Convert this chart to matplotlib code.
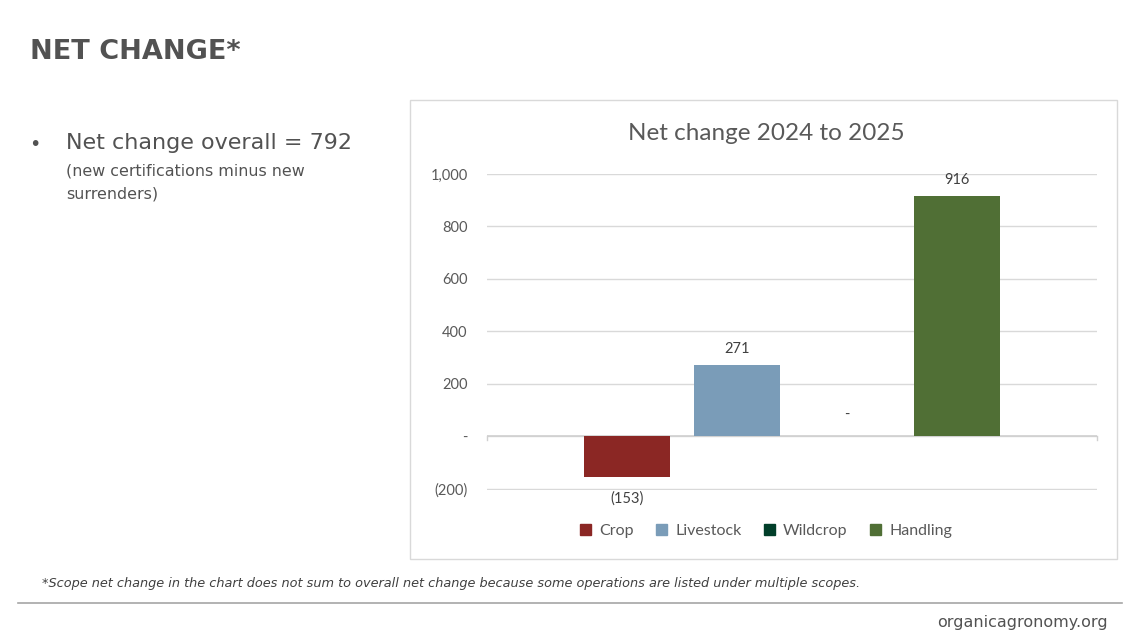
import matplotlib.pyplot as plt
from matplotlib.patches import Rectangle
from matplotlib.lines import Line2D

# data
scopes = ["Crop", "Livestock", "Wildcrop", "Handling"]
net_change = [-153, 271, 0, 916]
colors = ["#8B2724", "#7A9CB8", "#013F2A", "#506F35"]
yticks = [-200, 0, 200, 400, 600, 800, 1000]


def acct(v):
    # excel accounting style labels
    if v == 0:
        return "-"
    if v < 0:
        return "({:,})".format(-v)
    return "{:,}".format(v)


plt.rcParams["font.family"] = ["Lato", "DejaVu Sans"]
W, H = 1147, 641
fig = plt.figure(figsize=(W / 100, H / 100), dpi=100)
fig.patch.set_facecolor("white")

# slide texts
fig.text(30 / W, 1 - 52 / H, "NET CHANGE*", fontsize=19.5, fontweight="bold",
         color="#525252", family="DejaVu Sans", va="center", ha="left")
fig.text(29 / W, 1 - 144 / H, "\u2022", fontsize=14, color="#525252",
         va="center", ha="left", family="DejaVu Sans")
fig.text(66 / W, 1 - 143 / H, "Net change overall = 792", fontsize=16,
         color="#525252", family="DejaVu Sans", va="center", ha="left")
fig.text(66 / W, 1 - 171 / H, "(new certifications minus new", fontsize=11.4,
         color="#525252", family="DejaVu Sans", va="center", ha="left")
fig.text(66 / W, 1 - 194 / H, "surrenders)", fontsize=11.4,
         color="#525252", family="DejaVu Sans", va="center", ha="left")
fig.text(42 / W, 1 - 584 / H,
         "*Scope net change in the chart does not sum to overall net change because some operations are listed under multiple scopes.",
         fontsize=9.3, style="italic", color="#404040", family="DejaVu Sans",
         va="center", ha="left")
fig.add_artist(Line2D([18 / W, 1122 / W], [1 - 603 / H, 1 - 603 / H],
                      transform=fig.transFigure, color="#A6A6A6", lw=1.2))
fig.text(1108 / W, 1 - 622 / H, "organicagronomy.org", fontsize=11.5,
         color="#525252", family="DejaVu Sans", va="center", ha="right")

# chart frame
fig.add_artist(Rectangle((410 / W, 1 - 559 / H), 707 / W, 459 / H,
                         transform=fig.transFigure, fill=False,
                         edgecolor="#D9D9D9", lw=1))
fig.text(766 / W, 1 - 133 / H, "Net change 2024 to 2025", fontsize=17.5,
         color="#595959", va="center", ha="center")

ax = fig.add_axes([487 / W, 1 - 490 / H, 610 / W, 316 / H])
x = list(range(len(scopes)))
bars = ax.bar(x, net_change, width=0.78, color=colors, zorder=3)
ax.set_xlim(-1.27, 4.27)
ax.set_ylim(-204, 1000)
ax.set_yticks(yticks)
ax.set_yticklabels([acct(v) for v in yticks])
ax.tick_params(axis="y", length=0, pad=14, labelsize=10.5, labelcolor="#595959")
ax.set_xticks([])
for s in ax.spines.values():
    s.set_visible(False)
ax.grid(axis="y", color="#D9D9D9", lw=1, zorder=0)
ax.axhline(0, color="#D0D0D0", lw=1.2, zorder=2)
ax.plot([-1.27, -1.27], [0, -12], color="#D0D0D0", lw=1, clip_on=False)
ax.plot([4.27, 4.27], [0, -12], color="#D0D0D0", lw=1, clip_on=False)

for xi, v in zip(x, net_change):
    if v < 0:
        ax.text(xi, v - 55, acct(v), ha="center", va="top", fontsize=10.5,
                color="#404040")
    elif v == 0:
        ax.text(xi, v + 55, acct(v), ha="center", va="bottom", fontsize=10.5,
                color="#404040")
    else:
        ax.text(xi, v + 35, acct(v), ha="center", va="bottom", fontsize=10.5,
                color="#404040")

handles = [Rectangle((0, 0), 1, 1, color=c) for c in colors]
fig.legend(handles, scopes, loc="center", bbox_to_anchor=(766 / W, 1 - 531 / H),
           ncol=4, frameon=False, fontsize=11.5, handlelength=0.7, handleheight=0.7,
           columnspacing=1.4, handletextpad=0.5, labelcolor="#595959")

fig.savefig("out.png", dpi=100)
